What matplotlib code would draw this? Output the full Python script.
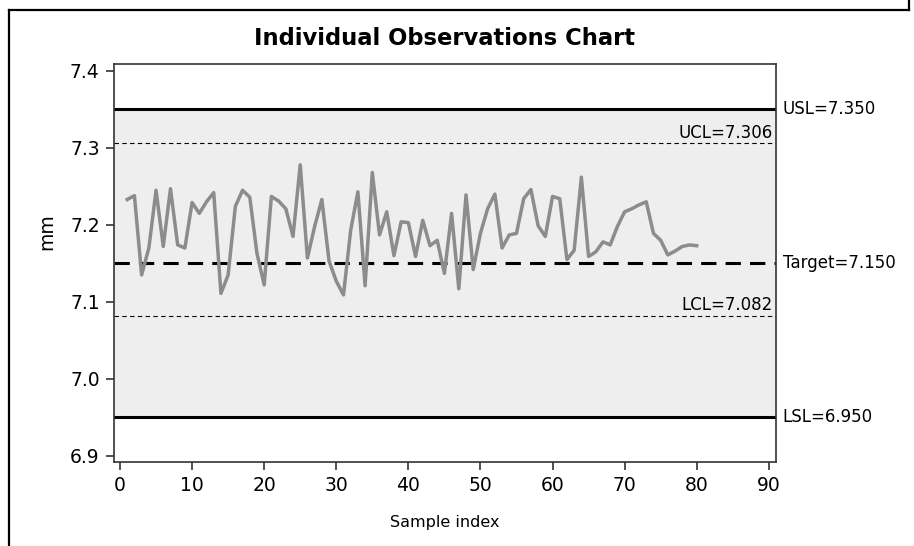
import matplotlib
matplotlib.use('Agg')
import matplotlib.pyplot as plt
from matplotlib.lines import Line2D

sample_index = list(range(1, 81))
mm = [7.233, 7.238, 7.135, 7.170, 7.245, 7.172, 7.247, 7.174, 7.170, 7.229,
      7.215, 7.230, 7.242, 7.111, 7.135, 7.224, 7.245, 7.236, 7.163, 7.122,
      7.237, 7.231, 7.221, 7.185, 7.278, 7.157, 7.198, 7.233, 7.153, 7.127,
      7.109, 7.193, 7.243, 7.121, 7.268, 7.187, 7.217, 7.160, 7.204, 7.203,
      7.159, 7.206, 7.173, 7.180, 7.137, 7.215, 7.117, 7.239, 7.142, 7.189,
      7.221, 7.240, 7.170, 7.187, 7.189, 7.234, 7.246, 7.199, 7.185, 7.237,
      7.234, 7.155, 7.167, 7.262, 7.159, 7.165, 7.178, 7.174, 7.198, 7.217,
      7.221, 7.226, 7.230, 7.189, 7.180, 7.161, 7.166, 7.172, 7.174, 7.173]

usl = 7.350
lsl = 6.950
target = 7.150
ucl = 7.306
lcl = 7.082

x_ticks = [0, 10, 20, 30, 40, 50, 60, 70, 80, 90]
y_ticks = [6.9, 7.0, 7.1, 7.2, 7.3, 7.4]

plt.rcParams['font.family'] = ['DejaVu Sans']

fig = plt.figure(figsize=(9.14, 5.46), dpi=100)
ax = fig.add_axes([0.1242, 0.1538, 0.7248, 0.729])

# specification band
ax.axhspan(lsl, usl, color='#eeeeee', zorder=0)
ax.axhline(usl, color='black', lw=2.2, zorder=2)
ax.axhline(lsl, color='black', lw=2.2, zorder=2)
ax.axhline(target, color='black', lw=2.2, ls=(0, (5, 3)), zorder=2)
ax.axhline(ucl, color='black', lw=0.8, ls=(0, (4, 3)), zorder=2)
ax.axhline(lcl, color='black', lw=0.8, ls=(0, (4, 3)), zorder=2)

ax.plot(sample_index, mm, color='#8c8c8c', lw=2.5, zorder=3)

ax.set_xlim(-0.9, 91.0)
ax.set_ylim(6.892, 7.409)
ax.set_xticks(x_ticks)
ax.set_yticks(y_ticks)
ax.set_yticklabels(['%.1f' % v for v in y_ticks])
ax.tick_params(labelsize=13.5, length=6, width=1.2, color='#333333', pad=4)
for s in ax.spines.values():
    s.set_linewidth(1.2)
    s.set_color('#333333')

ax.set_title('Individual Observations Chart', fontsize=16.3, fontweight='bold', pad=14)

fig.text(445 / 914, 1 - 523 / 546, 'Sample index', fontsize=11.5, ha='center', va='center')
# the y label sits a bit above the axes centre in the reference
fig.text(47 / 914, 1 - 232 / 546, 'mm', fontsize=13.5, ha='center', va='center', rotation=90)

# limit labels
tr = ax.get_yaxis_transform()
ax.text(1.01, usl, 'USL=7.350', transform=tr, fontsize=12, va='center', ha='left')
ax.text(1.01, target, 'Target=7.150', transform=tr, fontsize=12, va='center', ha='left')
ax.text(1.01, lsl, 'LSL=6.950', transform=tr, fontsize=12, va='center', ha='left')
ax.text(0.995, ucl + 0.002, 'UCL=7.306', transform=tr, fontsize=12, va='bottom', ha='right')
ax.text(0.995, lcl + 0.002, 'LCL=7.082', transform=tr, fontsize=12, va='bottom', ha='right')

# page border cut off by the crop
x0, x1 = 9 / 914, 909 / 914
y_top = 1 - 10 / 546
fig.add_artist(Line2D([x0, x0], [-0.01, y_top], transform=fig.transFigure, color='black', lw=1.6))
fig.add_artist(Line2D([x0, x1], [y_top, y_top], transform=fig.transFigure, color='black', lw=1.6))
fig.add_artist(Line2D([x1, x1], [y_top, 1.01], transform=fig.transFigure, color='black', lw=1.6))

plt.savefig('out.png', dpi=100)
